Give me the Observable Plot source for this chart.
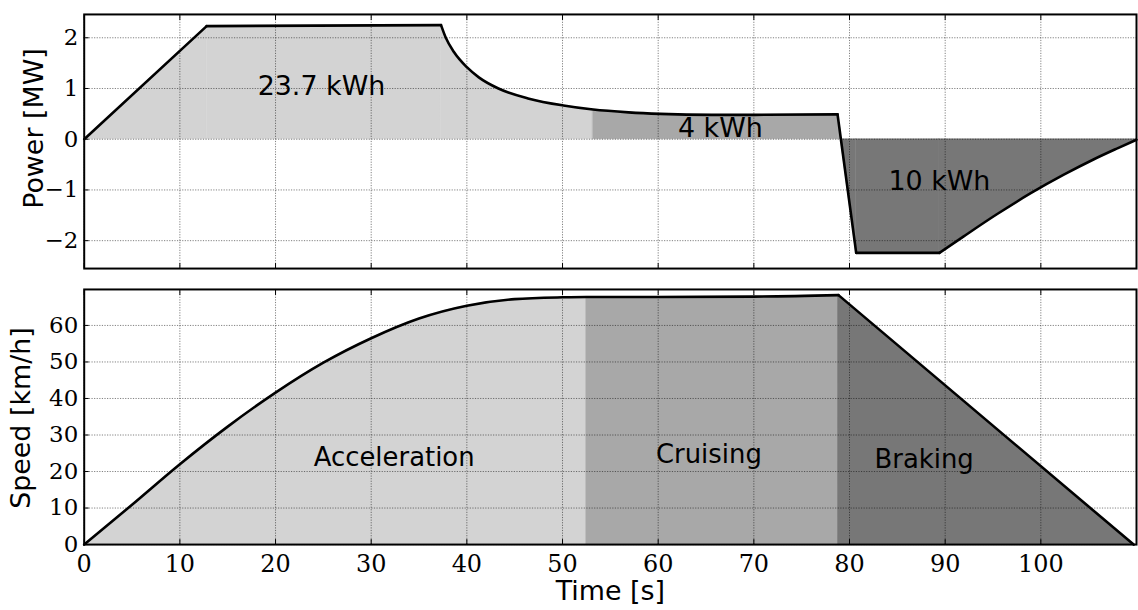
<!DOCTYPE html>
<html><head><meta charset="utf-8">
<script src="https://cdn.jsdelivr.net/npm/d3@7"></script>
<script src="https://cdn.jsdelivr.net/npm/@observablehq/plot@0.6"></script>
<style>
html,body{margin:0;padding:0;background:#fff;overflow:hidden}
#chart{width:1138px;height:610px;overflow:hidden;background:#fff}
#chart svg{display:block}
</style></head><body><div id="chart"></div>
<script>
// ---------- data ----------
const phases = ["Acceleration", "Cruising", "Braking"];
const phaseFill = ["#d3d3d3", "#a8a8a8", "#777777"];

const powerTime  = [0, 12.8, 37.3, 37.8, 38.65, 40.0, 41.25, 43.3, 46.5, 50.1, 53.2, 56.9, 60.2, 65.6, 70.1, 78.75, 79.1, 80.7, 89.4, 91.9, 95.4, 98.9, 102.4, 105.5, 108.0, 110];
const powerValue = [0, 2.23, 2.25, 2.00, 1.72, 1.42, 1.22, 1.00, 0.80, 0.665, 0.585, 0.53, 0.50, 0.48, 0.48, 0.49, 0, -2.24, -2.24, -1.92, -1.48, -1.07, -0.70, -0.40, -0.18, -0.01];
// times where the power trace has a sharp corner
const powerCorners = [0, 12.8, 37.3, 78.75, 80.7, 89.4, 110];
const powerPhaseStart = [0, 53.2, 79.1];
const powerPhaseEnd   = [53.2, 79.1, 110];

const speedTime  = [0, 5, 10, 15, 20, 25, 30, 35, 40, 45, 50, 52.5, 60, 70, 78.85, 109.7];
const speedValue = [0, 10.9, 22.0, 32.3, 41.6, 49.8, 56.5, 61.9, 65.4, 67.2, 67.7, 67.8, 67.8, 67.9, 68.3, 0];
const speedCorners = [0, 78.85, 109.7];
const speedPhaseStart = [0, 52.5, 78.85];
const speedPhaseEnd   = [52.5, 78.85, 109.7];

const timeTicks  = [0, 10, 20, 30, 40, 50, 60, 70, 80, 90, 100];
const powerTicks = [-2, -1, 0, 1, 2];
const speedTicks = [0, 10, 20, 30, 40, 50, 60];

const energyLabels     = ["23.7 kWh", "4 kWh", "10 kWh"];
const energyLabelTime  = [24.8, 66.5, 89.4];
const energyLabelPower = [1.05, 0.21, -0.84];

const phaseLabelTime  = [32.4, 65.3, 87.8];
const phaseLabelSpeed = [23.7, 24.5, 23.1];

// ---------- helpers ----------
// split the trace into smooth pieces between corners (and between phases for fills)
function pieceRows(ts, vs, corners) {
  const rows = [];
  for (let p = 0; p < corners.length - 1; p++) {
    ts.forEach((t, i) => { if (t >= corners[p] && t <= corners[p + 1]) rows.push({t, v: vs[i], piece: p}); });
  }
  return rows;
}
function fillRows(ts, vs, corners, starts, ends) {
  const rows = [];
  phases.forEach((ph, k) => {
    pieceRows(ts, vs, corners).forEach(d => {
      if (d.t >= starts[k] && d.t <= ends[k]) rows.push({...d, phase: ph, key: ph + "-" + d.piece});
    });
  });
  return rows;
}
const minus = d => (d < 0 ? "\u2212" + Math.abs(d) : String(d));
const gridStyle = {stroke: "black", strokeOpacity: 0.5, strokeWidth: 1, strokeDasharray: "1.2,1.4"};
const sans = "DejaVu Sans, sans-serif";
const serif = "DejaVu Serif, serif";
const lineStyle = {x: "t", y: "v", z: "piece", stroke: "black", strokeWidth: 2.6, strokeLinecap: "round", strokeLinejoin: "round", curve: "monotone-x"};

const common = {
  width: 1142,
  marginLeft: 84,
  marginRight: 2,
  x: {domain: [0, 110], axis: null},
  color: {domain: phases, range: phaseFill},
  style: {fontFamily: serif, fontSize: "23px", color: "black", background: "white"}
};

// ---------- power panel ----------
const powerPlot = Plot.plot({
  ...common,
  height: 280,
  marginTop: 14,
  marginBottom: 11,
  y: {domain: [-2.55, 2.46], axis: null},
  marks: [
    Plot.area(fillRows(powerTime, powerValue, powerCorners, powerPhaseStart, powerPhaseEnd), {x1: "t", y1: 0, y2: "v", z: "key", fill: "phase", stroke: "phase", strokeWidth: 0.5, curve: "monotone-x"}),
    Plot.gridX(timeTicks, gridStyle),
    Plot.gridY(powerTicks, gridStyle),
    Plot.text(energyLabels, {x: energyLabelTime, y: energyLabelPower, text: d => d, fontFamily: sans, fontSize: 27, lineAnchor: "middle", fill: "black"}),
    Plot.line(pieceRows(powerTime, powerValue, powerCorners), lineStyle),
    Plot.axisY(powerTicks, {anchor: "left", tickSize: 0, tickPadding: 6, tickFormat: minus, label: null, fontFamily: serif, fontSize: 23}),
    Plot.axisY(powerTicks, {anchor: "left", tickSize: -5, tickFormat: () => "", label: null}),
    Plot.axisX(timeTicks, {anchor: "bottom", tickSize: -5, tickFormat: () => "", label: null}),
    Plot.axisX(timeTicks, {anchor: "top", tickSize: -5, tickFormat: () => "", label: null}),
    Plot.text(["Power [MW]"], {frameAnchor: "left", text: d => d, rotate: -90, dx: -50, dy: -13, textAnchor: "middle", fontFamily: sans, fontSize: 27, lineAnchor: "middle", fill: "black"}),
    Plot.frame({stroke: "black", strokeWidth: 2})
  ]
});

// ---------- speed panel ----------
const speedPlot = Plot.plot({
  ...common,
  height: 330,
  marginTop: 10,
  marginBottom: 64,
  y: {domain: [0, 69.85], axis: null},
  marks: [
    Plot.area(fillRows(speedTime, speedValue, speedCorners, speedPhaseStart, speedPhaseEnd), {x1: "t", y1: 0, y2: "v", z: "key", fill: "phase", stroke: "phase", strokeWidth: 0.5, curve: "monotone-x"}),
    Plot.gridX(timeTicks, gridStyle),
    Plot.gridY(speedTicks, gridStyle),
    Plot.text(phases, {x: phaseLabelTime, y: phaseLabelSpeed, text: d => d, fontFamily: sans, fontSize: 26, lineAnchor: "middle", fill: "black"}),
    Plot.line(pieceRows(speedTime, speedValue, speedCorners), lineStyle),
    Plot.axisY(speedTicks, {anchor: "left", tickSize: 0, tickPadding: 6, label: null, fontFamily: serif, fontSize: 23}),
    Plot.axisY(speedTicks, {anchor: "left", tickSize: -5, tickFormat: () => "", label: null}),
    Plot.axisX(timeTicks, {anchor: "bottom", tickSize: 0, tickPadding: 10, label: null, fontFamily: serif, fontSize: 24}),
    Plot.axisX(timeTicks, {anchor: "bottom", tickSize: -5, tickFormat: () => "", label: null}),
    Plot.axisX(timeTicks, {anchor: "top", tickSize: -5, tickFormat: () => "", label: null}),
    Plot.text(["Speed [km/h]"], {frameAnchor: "left", text: d => d, rotate: -90, dx: -63, dy: 1, textAnchor: "middle", fontFamily: sans, fontSize: 27, lineAnchor: "middle", fill: "black"}),
    Plot.text(["Time [s]"], {frameAnchor: "bottom", text: d => d, dy: 47, textAnchor: "middle", fontFamily: sans, fontSize: 27, lineAnchor: "middle", fill: "black"}),
    Plot.frame({stroke: "black", strokeWidth: 2})
  ]
});

const chart = document.getElementById("chart");
chart.appendChild(powerPlot);
chart.appendChild(speedPlot);
</script>
</body></html>
